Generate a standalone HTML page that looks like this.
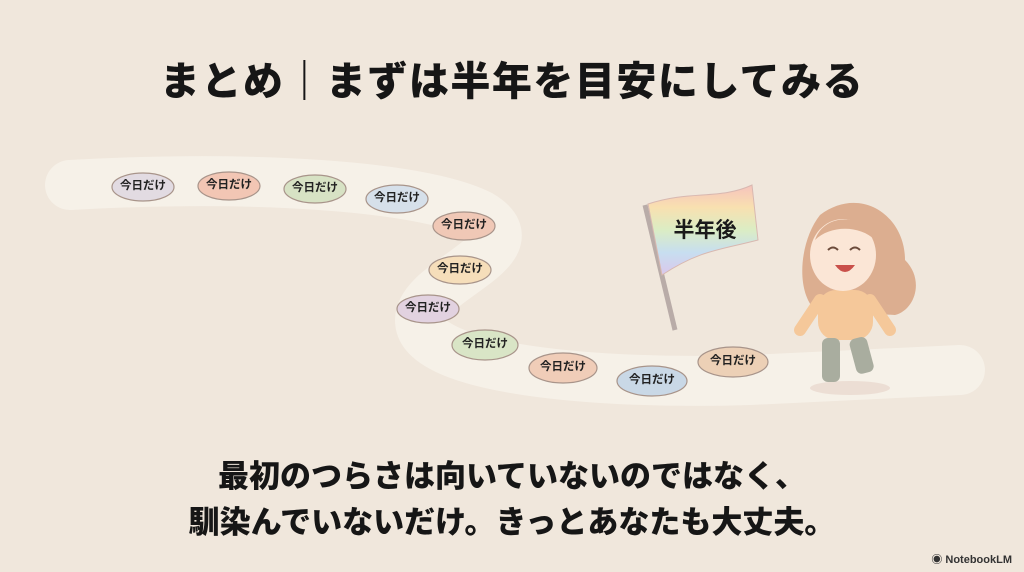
<!DOCTYPE html>
<html><head><meta charset="utf-8"><style>
html,body{margin:0;padding:0}
body{width:1024px;height:572px;background:#f0e7dc;position:relative;overflow:hidden;font-family:"Liberation Sans","Noto Sans CJK JP",sans-serif}
.t{position:absolute;left:0;width:1024px;text-align:center;font-weight:900;color:#161616}
</style></head><body>
<div class="t" style="top:49px;font-size:40px;letter-spacing:1.5px">まとめ｜まずは半年を目安にしてみる</div>
<svg width="1024" height="572" style="position:absolute;left:0;top:0">
<defs><linearGradient id="rb" x1="0" y1="0" x2="0" y2="1">
<stop offset="0" stop-color="#f6c3bd"/><stop offset=".25" stop-color="#f8e0b0"/><stop offset=".5" stop-color="#dbedc4"/><stop offset=".75" stop-color="#c7def0"/><stop offset="1" stop-color="#dac8ec"/></linearGradient></defs>
<path d="M70 185 C250 175 420 185 480 215 C540 250 420 280 420 320 C420 370 600 385 750 380 L960 370" fill="none" stroke="#f7f2ea" stroke-width="50" stroke-linecap="round" opacity=".85"/>
<g font-size="11.5" font-weight="bold" text-anchor="middle" fill="#222">
<g stroke="#a8948a" stroke-width="1.2">
<ellipse cx="143" cy="187" rx="31" ry="14" fill="#e2dbe2"/>
<ellipse cx="229" cy="186" rx="31" ry="14" fill="#f2c6b4"/>
<ellipse cx="315" cy="189" rx="31" ry="14" fill="#d7e2c4"/>
<ellipse cx="397" cy="199" rx="31" ry="14" fill="#d6e0ea"/>
<ellipse cx="464" cy="226" rx="31" ry="14" fill="#f0c8b6"/>
<ellipse cx="460" cy="270" rx="31" ry="14" fill="#f6deba"/>
<ellipse cx="428" cy="309" rx="31" ry="14" fill="#e2d2e0"/>
<ellipse cx="485" cy="345" rx="33" ry="15" fill="#d9e5c6"/>
<ellipse cx="563" cy="368" rx="34" ry="15" fill="#f0cdb8"/>
<ellipse cx="652" cy="381" rx="35" ry="15" fill="#c9d8e6"/>
<ellipse cx="733" cy="362" rx="35" ry="15" fill="#ecd0b6"/>
</g>
<text x="143" y="189">今日だけ</text><text x="229" y="188">今日だけ</text><text x="315" y="191">今日だけ</text>
<text x="397" y="201">今日だけ</text><text x="464" y="228">今日だけ</text><text x="460" y="272">今日だけ</text>
<text x="428" y="311">今日だけ</text><text x="485" y="347">今日だけ</text><text x="563" y="370">今日だけ</text>
<text x="652" y="383">今日だけ</text><text x="733" y="364">今日だけ</text>
</g>
<line x1="645" y1="205" x2="675" y2="330" stroke="#b9aca8" stroke-width="5"/>
<path d="M648 204 C690 190 720 200 752 185 L758 240 C720 250 700 250 662 275 Z" fill="url(#rb)" stroke="#d8b8b0"/>
<text x="705" y="237" font-size="21" font-weight="bold" text-anchor="middle" fill="#1a1a1a">半年後</text>
<ellipse cx="850" cy="388" rx="40" ry="7" fill="#e8d6cc" opacity=".7"/>
<path d="M820 215 C860 185 905 215 905 260 C925 280 915 310 895 315 L815 310 C795 290 800 240 820 215Z" fill="#dcae90"/>
<rect x="818" y="290" width="55" height="50" rx="18" fill="#f5c89a"/>
<path d="M820 300 L800 330 M870 300 L890 330" stroke="#f5c89a" stroke-width="12" stroke-linecap="round"/>
<rect x="822" y="338" width="18" height="44" rx="6" fill="#a9ad9f"/>
<rect x="848" y="338" width="18" height="36" rx="6" fill="#a9ad9f" transform="rotate(-15 857 338)"/>
<ellipse cx="843" cy="255" rx="33" ry="36" fill="#fbe6d6"/>
<path d="M815 240 C825 210 870 215 875 240 C860 225 830 225 815 240Z" fill="#dcae90"/>
<path d="M828 250 q5 -5 10 0 M850 250 q5 -5 10 0" stroke="#6b4a3a" stroke-width="2" fill="none"/>
<path d="M835 265 q10 14 20 0 Z" fill="#c9504a"/>
</svg>
<div class="t" style="top:451px;font-size:31px">最初のつらさは向いていないのではなく、</div>
<div class="t" style="top:497px;font-size:31px">馴染んでいないだけ。きっとあなたも大丈夫。</div>
<div style="position:absolute;right:12px;top:551px;font-size:11px;font-weight:bold;color:#333">◉ NotebookLM</div>
</body></html>
